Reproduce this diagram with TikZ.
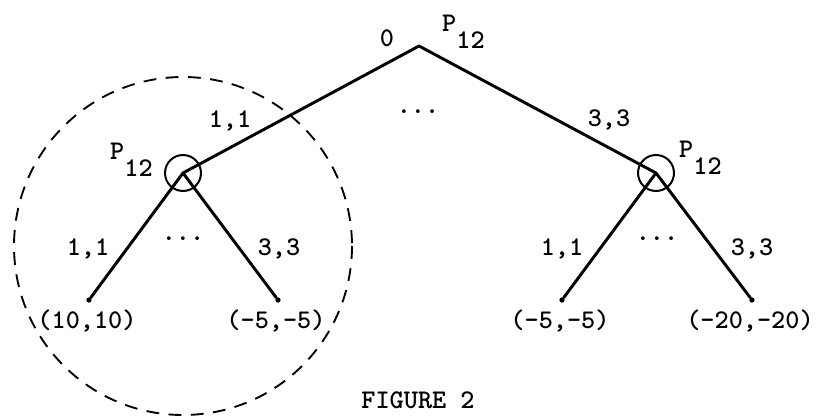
\documentclass[tikz,border=0pt]{standalone}
\usepackage{fontspec}
\usepackage{tikz}
\usetikzlibrary{positioning}
\definecolor{ink}{HTML}{000000}
\tikzset{
  branch/.style={line width=2.5pt, draw=ink, line cap=round},
  infoset/.style={circle, draw=ink, line width=1.7pt, minimum size=10.8mm,
                  inner sep=0pt},
  tip/.style={circle, fill=ink, minimum size=4.5pt, inner sep=0pt},
  lbl/.style={font=\fontsize{23}{27}\selectfont\ttfamily\bfseries, text=ink,
              inner sep=0pt, anchor=base},
  subgame/.style={draw=ink, line width=1.6pt, dash pattern=on 11pt off 8pt},
}
\newcommand{\player}{P\raisebox{-0.6em}{12}}
\begin{document}
\begin{tikzpicture}[x=0.3mm, y=-0.3mm]
  \useasboundingbox (0,0) rectangle (820,417);

  % game tree
  \coordinate (root) at (419,46);
  \node[infoset] (left) at (183,173) {};
  \node[infoset] (right) at (656,173) {};
  \node[tip] (ll) at (89,300) {};
  \node[tip] (lr) at (278,300) {};
  \node[tip] (rl) at (562,300) {};
  \node[tip] (rr) at (752,300) {};

  \draw[branch] (root) -- (left.center);
  \draw[branch] (root) -- (right.center);
  \draw[branch] (left.center) -- (ll);
  \draw[branch] (left.center) -- (lr);
  \draw[branch] (right.center) -- (rl);
  \draw[branch] (right.center) -- (rr);

  % subgame
  \draw[subgame] (183,246) circle [radius=169];

  % labels
  \node[lbl] (zero) at (387,47) {0};
  \node[lbl, anchor=base west] (ptop) at (442,32) {\player};
  \node[lbl, anchor=base west] (pleft) at (110,160) {\player};
  \node[lbl, anchor=base west] (pright) at (679,158) {\player};

  \node[lbl] (atop) at (230,128) {1,1};
  \node[lbl] (dtop) at (418,114) {...};
  \node[lbl] (btop) at (609,127) {3,3};

  \node[lbl] (aleft) at (88,255) {1,1};
  \node[lbl] (dleft) at (183,241) {...};
  \node[lbl] (bleft) at (279,255) {3,3};
  \node[lbl] (aright) at (562,255) {1,1};
  \node[lbl] (dright) at (657,241) {...};
  \node[lbl] (bright) at (752,255) {3,3};

  \node[lbl] (pll) at (87,328) {(10,10)};
  \node[lbl] (plr) at (276,328) {(-5,-5)};
  \node[lbl] (prl) at (560,328) {(-5,-5)};
  \node[lbl] (prr) at (750,328) {(-20,-20)};

  \node[lbl] (caption) at (418,408) {FIGURE 2};
\end{tikzpicture}
\end{document}
